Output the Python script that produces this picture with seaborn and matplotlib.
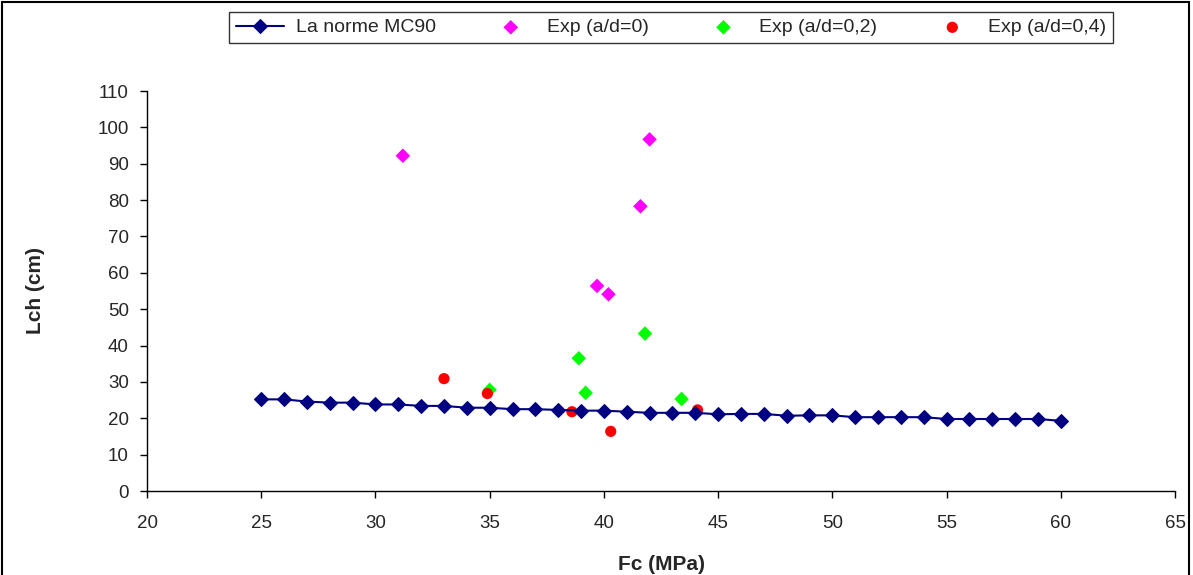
import numpy as np
import pandas as pd
import seaborn as sns
import matplotlib.pyplot as plt
from matplotlib.patches import Rectangle

# -------- DATA --------
fc_norme = list(range(25, 61))
lch_norme = [25.2, 25.2, 24.6, 24.3, 24.3, 23.8, 23.8, 23.4, 23.4, 22.9,
             22.9, 22.5, 22.5, 22.3, 22.1, 22.1, 21.8, 21.5, 21.5, 21.5,
             21.1, 21.2, 21.2, 20.7, 20.8, 20.8, 20.3, 20.3, 20.3, 20.3,
             19.8, 19.8, 19.8, 19.8, 19.8, 19.3]

fc_exp0 = [31.2, 42.0, 41.6, 39.7, 40.2]
lch_exp0 = [92.2, 96.7, 78.3, 56.4, 54.1]

fc_exp02 = [41.8, 38.9, 39.2, 35.0, 43.4]
lch_exp02 = [43.3, 36.5, 27.0, 27.8, 25.3]

fc_exp04 = [33.0, 34.9, 38.6, 40.3, 44.1]
lch_exp04 = [30.9, 26.8, 21.8, 16.4, 22.3]

# -------- STYLE --------
sns.set_style("white")
plt.rcParams["font.family"] = ["Liberation Sans", "DejaVu Sans"]

fig = plt.figure(figsize=(11.93, 5.75), dpi=100)
ax = fig.add_axes([147 / 1193, 1 - 491 / 575, (1175 - 147) / 1193, (491 - 91) / 575])

df_norme = pd.DataFrame({"Fc": fc_norme, "Lch": lch_norme})
sns.lineplot(data=df_norme, x="Fc", y="Lch", ax=ax, color="#000080",
             marker="D", markersize=7, markeredgecolor="#000080",
             linewidth=1.5, label="La norme MC90")

sns.scatterplot(x=fc_exp0, y=lch_exp0, ax=ax, color="#FF00FF", marker="D",
                s=55, edgecolor="none", label="Exp (a/d=0)")
sns.scatterplot(x=fc_exp02, y=lch_exp02, ax=ax, color="#00FF00", marker="D",
                s=55, edgecolor="none", label="Exp (a/d=0,2)")
sns.scatterplot(x=fc_exp04, y=lch_exp04, ax=ax, color="#FF0000", marker="o",
                s=65, edgecolor="none", label="Exp (a/d=0,4)")

# -------- AXES --------
ax.set_xlim(20, 65)
ax.set_ylim(0, 110)
ax.set_xticks(range(20, 66, 5))
ax.set_yticks(range(0, 111, 10))
ax.tick_params(axis="both", labelsize=13.5, direction="out", length=5,
               width=1, color="black", left=True, bottom=True)
ax.tick_params(axis="x", pad=12)
ax.tick_params(axis="y", pad=8)
for side in ["top", "right"]:
    ax.spines[side].set_visible(False)
for side in ["left", "bottom"]:
    ax.spines[side].set_color("black")
    ax.spines[side].set_linewidth(1)

ax.set_xlabel("Fc (MPa)", fontsize=15, fontweight="bold", labelpad=17)
ax.set_ylabel("Lch (cm)", fontsize=15, fontweight="bold", labelpad=38)

# -------- LEGEND --------
ax.legend(loc="upper center", bbox_to_anchor=(671 / 1193, 1 - 12 / 575),
          bbox_transform=fig.transFigure, ncol=4, frameon=True,
          fancybox=False, edgecolor="black", fontsize=14,
          handlelength=2.5, columnspacing=2.6, borderpad=0.35,
          handletextpad=0.6, borderaxespad=0)
ax.get_legend().get_frame().set_linewidth(1)

# outer chart border
fig.patches.append(Rectangle((0.002, -0.01), 0.995, 1.007,
                             transform=fig.transFigure, fill=False,
                             edgecolor="black", linewidth=1.5))

fig.savefig("out.png", dpi=100)
